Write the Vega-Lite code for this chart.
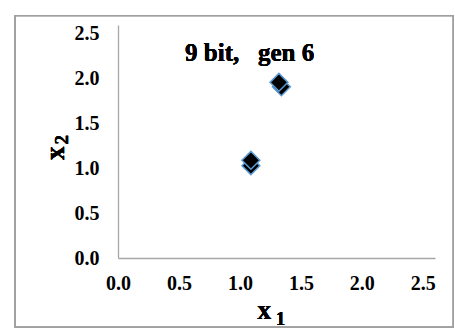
{
  "$schema": "https://vega.github.io/schema/vega-lite/v6.json",
  "width": 317,
  "height": 233,
  "autosize": "none",
  "padding": {"left": 118, "top": 25, "right": 20, "bottom": 73},
  "background": "white",
  "config": {
    "view": {"stroke": null},
    "axis": {
      "grid": false,
      "ticks": false,
      "domainColor": "#A6A6A6",
      "domainWidth": 1.3,
      "labelFont": "Liberation Serif",
      "labelFontWeight": "bold",
      "labelFontSize": 20,
      "labelColor": "black",
      "title": null
    }
  },
  "data": {
    "values": [
      {"x1": 1.09, "x2": 1.03},
      {"x1": 1.09, "x2": 1.09},
      {"x1": 1.34, "x2": 1.91},
      {"x1": 1.32, "x2": 1.96}
    ]
  },
  "layer": [
    {
      "mark": {"type": "rect", "fill": null, "stroke": "#A0A0A0", "strokeWidth": 1.3, "clip": false},
      "encoding": {
        "x": {"datum": -0.844, "type": "quantitative", "scale": {"domain": [0, 2.5]}},
        "x2": {"datum": 2.75},
        "y": {"datum": 2.704, "type": "quantitative", "scale": {"domain": [0, 2.5]}},
        "y2": {"datum": -0.773}
      }
    },
    {
      "mark": {"type": "point", "shape": "diamond", "filled": true, "fill": "black", "stroke": "#5B9BD5", "strokeWidth": 1.5, "size": 320, "opacity": 1},
      "encoding": {
        "x": {"field": "x1", "type": "quantitative", "scale": {"domain": [0, 2.5]},
              "axis": {"values": [0, 0.5, 1, 1.5, 2, 2.5], "format": ".1f", "labelPadding": 15, "labelFlush": false}},
        "y": {"field": "x2", "type": "quantitative", "scale": {"domain": [0, 2.5]},
              "axis": {"values": [0, 0.5, 1, 1.5, 2, 2.5], "format": ".1f", "labelPadding": 19, "labelFlush": false}}
      }
    },
    {
      "mark": {"type": "text", "text": "9 bit,\u00a0\u00a0 gen 6", "font": "Liberation Serif", "fontWeight": "bold", "fontSize": 25, "align": "center", "baseline": "alphabetic", "color": "black"},
      "encoding": {
        "x": {"datum": 1.08, "type": "quantitative"},
        "y": {"datum": 2.194, "type": "quantitative"}
      }
    },
    {
      "mark": {"type": "text", "text": "x", "font": "Liberation Serif", "fontWeight": "bold", "fontSize": 27, "align": "center", "baseline": "alphabetic", "color": "black"},
      "encoding": {
        "x": {"datum": 1.199, "type": "quantitative"},
        "y": {"datum": -0.676, "type": "quantitative"}
      }
    },
    {
      "mark": {"type": "text", "text": "1", "font": "Liberation Serif", "fontWeight": "bold", "fontSize": 19, "align": "center", "baseline": "alphabetic", "color": "black"},
      "encoding": {
        "x": {"datum": 1.333, "type": "quantitative"},
        "y": {"datum": -0.751, "type": "quantitative"}
      }
    },
    {
      "mark": {"type": "text", "text": "x", "font": "Liberation Serif", "fontWeight": "bold", "fontSize": 27, "align": "center", "baseline": "alphabetic", "angle": 270, "color": "black"},
      "encoding": {
        "x": {"datum": -0.442, "type": "quantitative"},
        "y": {"datum": 1.17, "type": "quantitative"}
      }
    },
    {
      "mark": {"type": "text", "text": "2", "font": "Liberation Serif", "fontWeight": "bold", "fontSize": 19, "align": "center", "baseline": "alphabetic", "angle": 270, "color": "black"},
      "encoding": {
        "x": {"datum": -0.41, "type": "quantitative"},
        "y": {"datum": 1.32, "type": "quantitative"}
      }
    }
  ]
}
